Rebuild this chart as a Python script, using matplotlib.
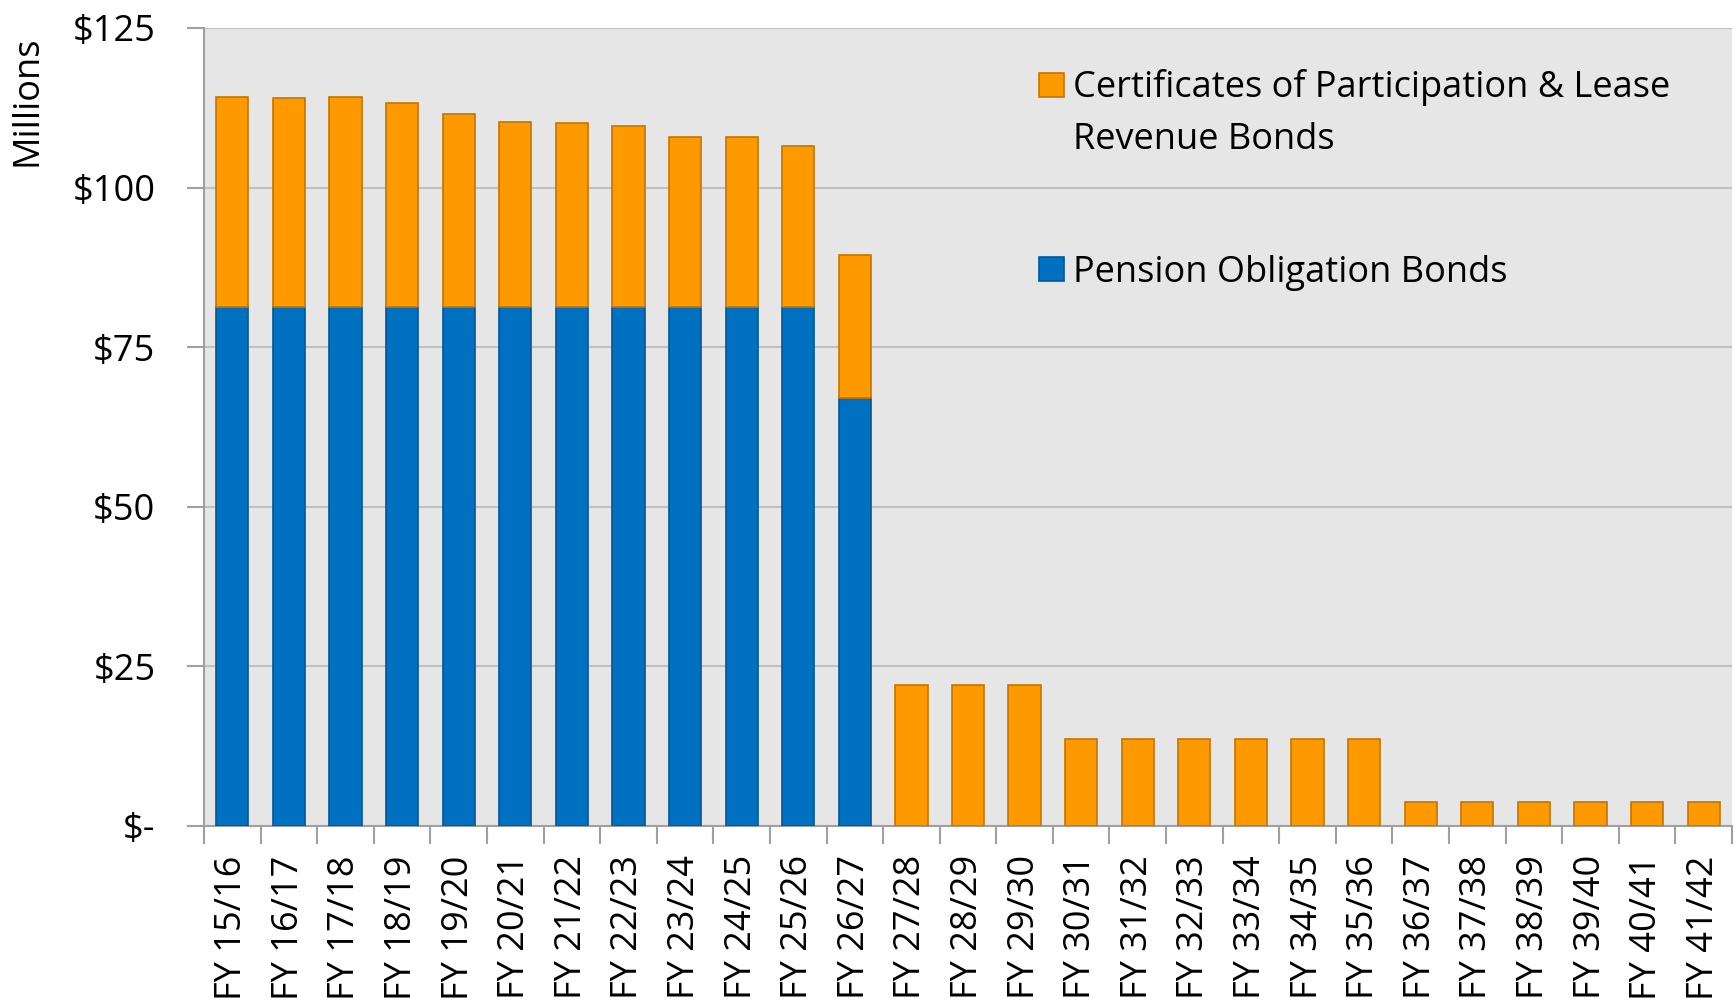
import numpy as np
import matplotlib
matplotlib.use('Agg')
import matplotlib.pyplot as plt
from matplotlib.patches import Rectangle

plt.rcParams['font.family'] = ['Open Sans', 'DejaVu Sans']

# fiscal years and annual debt service ($ millions)
years = ['FY 15/16', 'FY 16/17', 'FY 17/18', 'FY 18/19', 'FY 19/20', 'FY 20/21',
         'FY 21/22', 'FY 22/23', 'FY 23/24', 'FY 24/25', 'FY 25/26', 'FY 26/27',
         'FY 27/28', 'FY 28/29', 'FY 29/30', 'FY 30/31', 'FY 31/32', 'FY 32/33',
         'FY 33/34', 'FY 34/35', 'FY 35/36', 'FY 36/37', 'FY 37/38', 'FY 38/39',
         'FY 39/40', 'FY 40/41', 'FY 41/42']
pension = [81.3] * 11 + [67.0] + [0] * 15
cop_lrb = [32.9, 32.8, 32.9, 32.0, 30.2, 28.9, 28.8, 28.3, 26.6, 26.6, 25.2, 22.4,
           22.1, 22.1, 22.1, 13.6, 13.6, 13.6, 13.6, 13.6, 13.6,
           3.7, 3.7, 3.7, 3.7, 3.7, 3.7]

yticks = [0, 25, 50, 75, 100, 125]
ytick_labels = ['$-', '$25', '$50', '$75', '$100', '$125']

label_cop = ['Certificates of Participation & Lease', 'Revenue Bonds']
label_pob = 'Pension Obligation Bonds'

c_orange = '#FF9900'
c_orange_edge = '#C47400'
c_blue = '#0070C0'
c_blue_edge = '#00569A'
grey = '#A0A0A0'
fs = 26

fig = plt.figure(figsize=(17.36, 10.07), dpi=100)
ax = fig.add_axes([204/1736, 1-826/1007, 1528/1736, 798/1007])
ax.set_facecolor('#E6E6E6')

x = np.arange(len(years))
w = 0.57
ax.bar(x, pension, width=w, color=c_blue, edgecolor=c_blue_edge, linewidth=1.2, zorder=3)
ax.bar(x, cop_lrb, width=w, bottom=pension, color=c_orange, edgecolor=c_orange_edge,
       linewidth=1.2, zorder=3)

ax.set_xlim(-0.5, len(years) - 0.5)
ax.set_ylim(0, 125)

ax.set_yticks(yticks)
ax.set_yticklabels(ytick_labels, fontsize=fs)
ax.tick_params(axis='y', length=12, width=1.5, color=grey, pad=23)
ax.yaxis.grid(True, color='#C0C0C0', linewidth=1.5, zorder=0)

ax.set_xticks(x)
ax.set_xticklabels(years, rotation=90, fontsize=fs)
ax.set_xticks(np.arange(len(years) + 1) - 0.5, minor=True)
ax.tick_params(axis='x', which='major', length=0, pad=21)
ax.tick_params(axis='x', which='minor', length=13, width=1.5, color=grey)

for s in ['top', 'right']:
    ax.spines[s].set_visible(False)
for s in ['left', 'bottom']:
    ax.spines[s].set_color(grey)
    ax.spines[s].set_linewidth(1.5)

fig.text(27/1736, 1-101/1007, 'Millions', rotation=90, fontsize=fs,
         ha='center', va='center')

# legend keys and labels
kw = dict(transform=ax.transAxes, zorder=5, linewidth=1.2)
ax.add_patch(Rectangle((0.5465, 0.9135), 0.0164, 0.0301, facecolor=c_orange,
                       edgecolor=c_orange_edge, **kw))
ax.add_patch(Rectangle((0.5465, 0.6830), 0.0164, 0.0301, facecolor=c_blue,
                       edgecolor=c_blue_edge, **kw))
ax.text(0.5690, 0.9135, label_cop[0], transform=ax.transAxes, fontsize=fs, va='baseline')
ax.text(0.5690, 0.8484, label_cop[1], transform=ax.transAxes, fontsize=fs, va='baseline')
ax.text(0.5690, 0.6817, label_pob, transform=ax.transAxes, fontsize=fs, va='baseline')

fig.savefig('out.png', dpi=100)
